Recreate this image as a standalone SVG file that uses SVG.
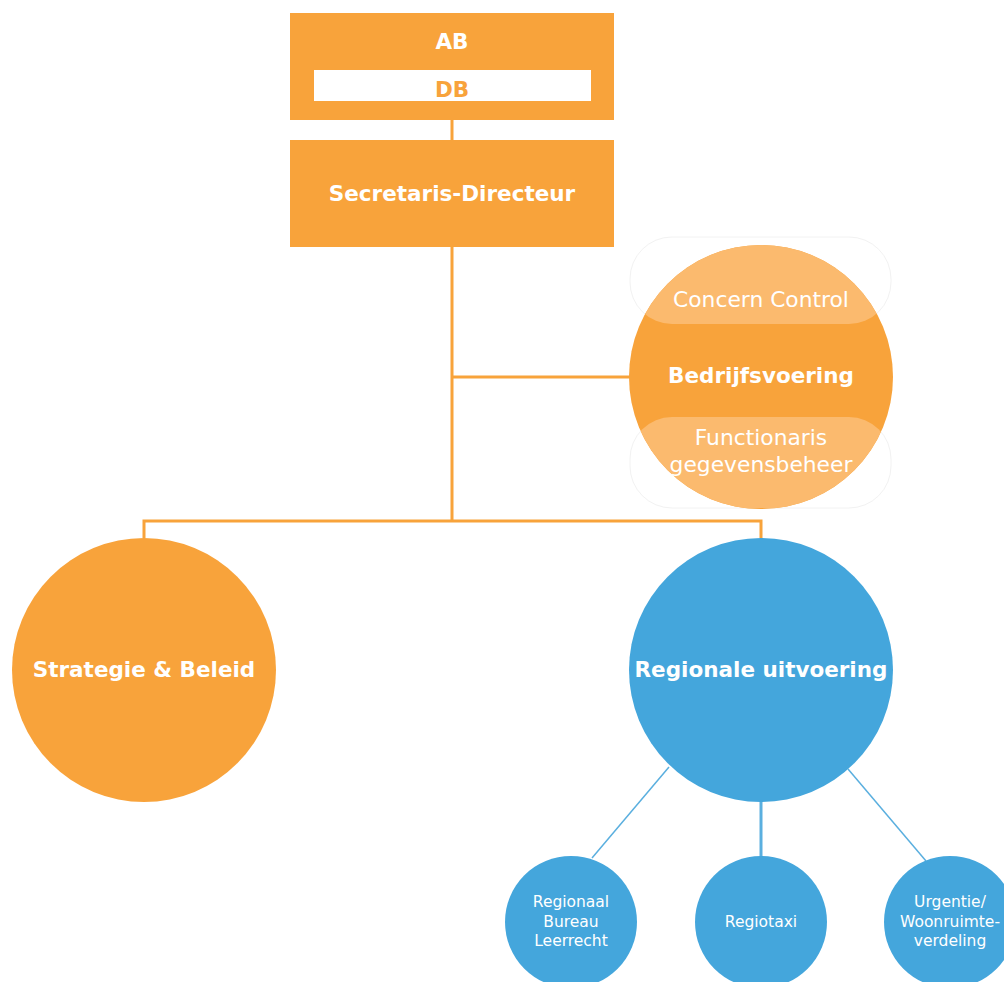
<svg xmlns="http://www.w3.org/2000/svg" width="1004" height="982" viewBox="0 0 1004 982">
<style>
.o{fill:#F8A33B}
.lo{fill:#FBBA6E}
.b{fill:#44A6DC}
.t{font-family:"DejaVu Sans",Verdana,sans-serif;fill:#fff;text-anchor:middle}
.bd{font-weight:bold}
.ol{stroke:#F8A33B;stroke-width:3;fill:none}
.bl{stroke:#5AAFDF;stroke-width:1.5;fill:none}
.fo{fill:none;stroke:#f2f2f2;stroke-width:1}
</style>
<defs>
<clipPath id="cb"><circle cx="761" cy="377" r="132"/></clipPath>
</defs>
<rect width="1004" height="982" fill="#fff"/>
<g id="connectors">
<line class="ol" x1="452" y1="120" x2="452" y2="140"/>
<line class="ol" x1="452" y1="247" x2="452" y2="521"/>
<line class="ol" x1="452" y1="377" x2="630" y2="377"/>
<polyline class="ol" points="144,538 144,521 761,521 761,538"/>
<line class="bl" x1="669" y1="767" x2="592" y2="858"/>
<line class="bl" x1="761" y1="800" x2="761" y2="857" style="stroke-width:3"/>
<line class="bl" x1="848" y1="769" x2="926" y2="861"/>
</g>
<g id="ab">
<rect class="o" x="290" y="13" width="324" height="107"/>
<rect x="314" y="70" width="277" height="31" fill="#fff"/>
<text class="t bd" x="452" y="49" font-size="21.5">AB</text>
<text class="t bd" x="452" y="97" font-size="21.5" style="fill:#F8A33B">DB</text>
</g>
<g id="secretaris">
<rect class="o" x="290" y="140" width="324" height="107"/>
<text class="t bd" x="452" y="201" font-size="21.5">Secretaris-Directeur</text>
</g>
<g id="bedrijfsvoering">
<rect class="fo" x="630" y="237" width="261" height="87" rx="42"/>
<rect class="fo" x="630" y="417" width="261" height="91" rx="42"/>
<circle class="o" cx="761" cy="377" r="132"/>
<g clip-path="url(#cb)">
<rect class="lo" x="630" y="237" width="261" height="87" rx="42"/>
<rect class="lo" x="630" y="417" width="261" height="91" rx="42"/>
</g>
<text class="t" x="761" y="307" font-size="21.8">Concern Control</text>
<text class="t bd" x="761" y="383" font-size="21.5">Bedrijfsvoering</text>
<text class="t" x="761" y="445" font-size="21.8">Functionaris</text>
<text class="t" x="761" y="472" font-size="21.8">gegevensbeheer</text>
</g>
<g id="strategie">
<circle class="o" cx="144" cy="670" r="132"/>
<text class="t bd" x="144" y="677" font-size="21.5">Strategie &amp; Beleid</text>
</g>
<g id="regionale">
<circle class="b" cx="761" cy="670" r="132"/>
<text class="t bd" x="761" y="677" font-size="21.5">Regionale uitvoering</text>
</g>
<g id="rbl">
<circle class="b" cx="571" cy="922" r="66"/>
<text class="t" x="571" y="907" font-size="15.5">Regionaal</text>
<text class="t" x="571" y="927" font-size="15.5">Bureau</text>
<text class="t" x="571" y="946" font-size="15.5">Leerrecht</text>
</g>
<g id="regiotaxi">
<circle class="b" cx="761" cy="922" r="66"/>
<text class="t" x="761" y="927" font-size="15.5">Regiotaxi</text>
</g>
<g id="urgentie">
<circle class="b" cx="950" cy="922" r="66"/>
<text class="t" x="950" y="907" font-size="15.5">Urgentie/</text>
<text class="t" x="950" y="927" font-size="15.5">Woonruimte-</text>
<text class="t" x="950" y="946" font-size="15.5">verdeling</text>
</g>
</svg>
